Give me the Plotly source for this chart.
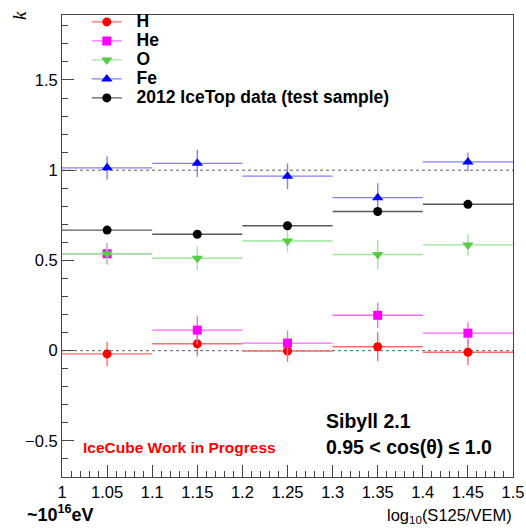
import plotly.graph_objects as go

# ---------------- data ----------------
bin_centers = [1.05, 1.15, 1.25, 1.35, 1.45]
bin_halfwidth = [0.05, 0.05, 0.05, 0.05, 0.05]

h_k = [-0.018, 0.038, -0.002, 0.022, -0.009]
h_err = [0.068, 0.070, 0.060, 0.080, 0.070]

he_k = [0.537, 0.114, 0.042, 0.196, 0.097]
he_err = [0.060, 0.080, 0.070, 0.070, 0.060]

o_k = [0.537, 0.512, 0.608, 0.533, 0.586]
o_err = [0.060, 0.065, 0.060, 0.080, 0.060]

fe_k = [1.013, 1.038, 0.967, 0.848, 1.046]
fe_err = [0.064, 0.076, 0.071, 0.080, 0.052]

data_k = [0.668, 0.645, 0.692, 0.771, 0.811]
data_err = [0.012, 0.012, 0.012, 0.012, 0.012]

ref_lines = [0.0, 1.0]

series = [
    ("H", h_k, h_err, "circle", "#ff0000", "#ff6a6a", 9),
    ("He", he_k, he_err, "square", "#ff00ff", "#ff66ff", 9),
    ("O", o_k, o_err, "triangle-down", "#55cc44", "#9be89b", 10),
    ("Fe", fe_k, fe_err, "triangle-up", "#0000ff", "#8080ff", 10),
    ("2012 IceTop data (test sample)", data_k, data_err, "circle", "#000000", "#5a5a5a", 9),
]

FONT = "Liberation Sans, Arial, Helvetica, sans-serif"

fig = go.Figure()

for name, k, err, sym, mcol, lcol, msize in series:
    fig.add_trace(go.Scatter(
        x=bin_centers, y=k, mode="markers", showlegend=False,
        marker=dict(symbol=sym, color=mcol, size=msize, line=dict(width=0)),
        error_x=dict(type="data", array=bin_halfwidth, color=lcol, thickness=1.4, width=0),
        error_y=dict(type="data", array=err, color=lcol, thickness=1.4, width=0),
        hoverinfo="skip",
    ))

# legend entries
for name, k, err, sym, mcol, lcol, msize in series:
    fig.add_trace(go.Scatter(
        x=[None], y=[None], mode="lines+markers",
        name='<span style="font-size:17.5px"><b>\u00a0\u00a0%s</b></span>' % name,
        marker=dict(symbol=sym, color=mcol, size=msize, line=dict(width=0)),
        line=dict(color=lcol, width=1.4),
    ))

for yv in ref_lines:
    fig.add_shape(type="line", xref="paper", x0=0, x1=1, yref="y", y0=yv, y1=yv,
                  line=dict(color="#606060", width=1, dash="dot"), layer="below")

fig.update_layout(
    width=526, height=532,
    margin=dict(l=62, r=13, t=15, b=55, autoexpand=False),
    paper_bgcolor="white", plot_bgcolor="white",
    font=dict(family=FONT, size=16, color="black"),
    showlegend=True,
    legend=dict(
        x=0.055, y=1.0165, xanchor="left", yanchor="top",
        bgcolor="rgba(0,0,0,0)", borderwidth=0,
        font=dict(family=FONT, size=12, color="black"),
        itemwidth=30, tracegroupgap=0,
    ),
    xaxis=dict(
        range=[1.0, 1.5], showgrid=False, zeroline=False, automargin=False,
        showline=True, linecolor="#444", linewidth=1, mirror=True,
        ticks="inside", ticklen=12, tickcolor="#444", tickwidth=1,
        tick0=1.0, dtick=0.05, tickformat="~g",
        tickfont=dict(family=FONT, size=16.5),
        minor=dict(dtick=0.01, ticks="inside", ticklen=6, tickcolor="#444", tickwidth=1),
    ),
    yaxis=dict(
        range=[-0.70, 1.86], showgrid=False, zeroline=False, automargin=False,
        showline=True, linecolor="#444", linewidth=1, mirror=True,
        ticks="inside", ticklen=12, tickcolor="#444", tickwidth=1,
        tick0=0, dtick=0.5, tickformat="~g",
        tickfont=dict(family=FONT, size=16.5),
        minor=dict(dtick=0.1, ticks="inside", ticklen=6, tickcolor="#444", tickwidth=1),
    ),
)

fig.add_annotation(text="<i>k</i>", xref="paper", yref="paper", x=-0.093, y=0.998,
                   xanchor="center", yanchor="middle", textangle=-90, showarrow=False,
                   font=dict(family="Liberation Serif, Times New Roman, serif", size=19))
fig.add_annotation(text="<b>Sibyll 2.1</b>", xref="paper", yref="paper", x=0.581, y=0.122,
                   xanchor="left", yanchor="middle", showarrow=False,
                   font=dict(family=FONT, size=19.5))
fig.add_annotation(text="<b>0.95 < cos(θ) ≤ 1.0</b>", xref="paper", yref="paper", x=0.581, y=0.064,
                   xanchor="left", yanchor="middle", showarrow=False,
                   font=dict(family=FONT, size=19.5))
fig.add_annotation(text="<b>IceCube Work in Progress</b>", xref="paper", yref="paper", x=0.043, y=0.063,
                   xanchor="left", yanchor="middle", showarrow=False,
                   font=dict(family=FONT, size=15.5, color="#ff0000"))
fig.add_annotation(text="<b>~10<sup>16</sup>eV</b>", xref="paper", yref="paper", x=-0.082, y=-0.078,
                   xanchor="left", yanchor="middle", showarrow=False,
                   font=dict(family=FONT, size=18))
fig.add_annotation(text="log<sub>10</sub>(S125/VEM)", xref="paper", yref="paper", x=1.003, y=-0.085,
                   xanchor="right", yanchor="middle", showarrow=False,
                   font=dict(family=FONT, size=16.5))

fig.write_html("out.html", config={"displayModeBar": False},
               post_script="document.body.style.margin='0';document.body.style.padding='0';")
